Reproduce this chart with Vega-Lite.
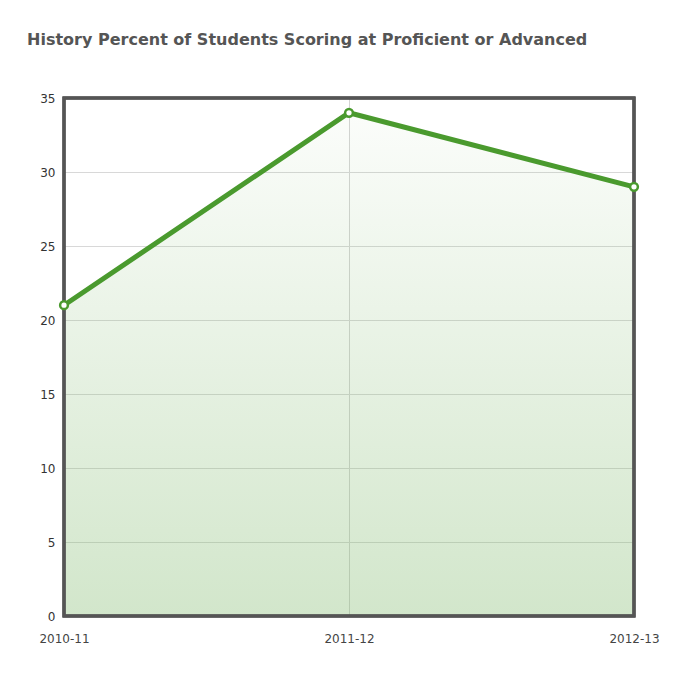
{
  "$schema": "https://vega.github.io/schema/vega-lite/v6.json",
  "autosize": "none",
  "width": 570,
  "height": 518,
  "padding": {"left": 64, "top": 98, "right": 48, "bottom": 59},
  "background": "#ffffff",
  "title": {
    "text": "History Percent of Students Scoring at Proficient or Advanced",
    "anchor": "start",
    "frame": "group",
    "dx": -37,
    "offset": 44,
    "font": "DejaVu Sans",
    "fontSize": 16,
    "fontWeight": "bold",
    "color": "#555555"
  },
  "data": {
    "values": [
      {"year": "2010-11", "pct": 21},
      {"year": "2011-12", "pct": 34},
      {"year": "2012-13", "pct": 29}
    ]
  },
  "encoding": {
    "x": {
      "field": "year",
      "type": "ordinal",
      "scale": {"type": "point", "padding": 0},
      "axis": {
        "title": null,
        "labelAngle": 0,
        "domain": false,
        "ticks": false,
        "grid": true,
        "gridColor": "#d4d4d4",
        "labelPadding": 17,
        "labelFont": "DejaVu Sans",
        "labelFontSize": 12,
        "labelColor": "#444444"
      }
    },
    "y": {
      "field": "pct",
      "type": "quantitative",
      "scale": {"domain": [0, 35], "nice": false},
      "axis": {
        "title": null,
        "values": [0, 5, 10, 15, 20, 25, 30, 35],
        "domain": false,
        "ticks": false,
        "grid": true,
        "gridColor": "#d8d8d8",
        "labelPadding": 9,
        "labelFont": "DejaVu Sans",
        "labelFontSize": 12,
        "labelColor": "#333333"
      }
    }
  },
  "layer": [
    {
      "mark": {
        "type": "area",
        "color": {
          "gradient": "linear",
          "x1": 0, "y1": 0, "x2": 0, "y2": 1,
          "stops": [
            {"offset": 0, "color": "rgba(126,184,106,0.03)"},
            {"offset": 1, "color": "rgba(126,184,106,0.35)"}
          ]
        }
      }
    },
    {
      "mark": {"type": "rect", "fill": null, "fillOpacity": 0, "stroke": "#555555", "strokeWidth": 3},
      "encoding": {
        "x": {"datum": "2010-11"},
        "x2": {"datum": "2012-13"},
        "y": {"datum": 0},
        "y2": {"datum": 35}
      }
    },
    {
      "mark": {"type": "line", "color": "#4a9a2e", "strokeWidth": 5}
    },
    {
      "mark": {"type": "point", "filled": true, "fill": "#ffffff", "stroke": "#4a9a2e", "strokeWidth": 2.5, "size": 60, "opacity": 1}
    }
  ],
  "config": {
    "view": {"stroke": null}
  }
}
